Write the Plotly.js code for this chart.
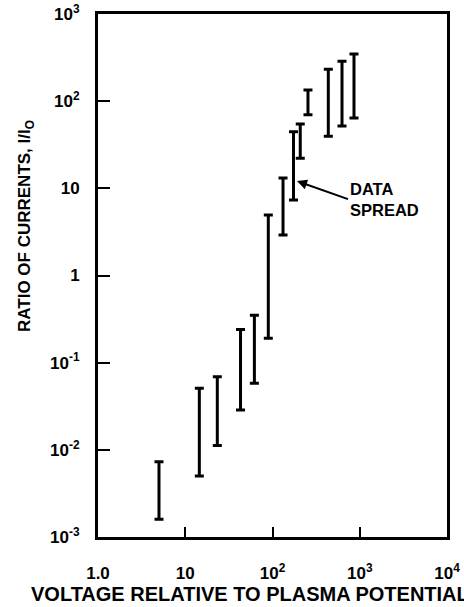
<!DOCTYPE html>
<html>
<head>
<meta charset="utf-8">
<script src="https://cdn.plot.ly/plotly-3.0.1.min.js"></script>
<style>html,body{margin:0;padding:0;background:#fff;}#chart{width:464px;height:607px;}</style>
</head>
<body>
<div id="chart"></div>
<script>
// Data (voltage relative to plasma potential vs ratio of currents spread)
var voltage     = [5.0, 14.5, 23.3, 43, 62, 89.5, 132, 174, 208, 255, 436, 626, 859];
var ratioLow    = [0.0016, 0.0050, 0.0112, 0.0286, 0.058, 0.19, 2.92, 7.35, 22.1, 70, 39.5, 52, 64];
var ratioHigh   = [0.0073, 0.0508, 0.069, 0.24, 0.35, 4.94, 13.1, 44.6, 54.7, 134, 232, 287, 348];

var xTickVals = [1, 10, 100, 1000, 10000];
var xTickText = ['1.0', '10', '10<sup>2</sup>', '10<sup>3</sup>', '10<sup>4</sup>'];
var yTickVals = [0.001, 0.01, 0.1, 1, 10, 100, 1000];
var yTickText = ['10<sup>-3</sup>', '10<sup>-2</sup>', '10<sup>-1</sup>', '1', '10', '10<sup>2</sup>', '10<sup>3</sup>'];

var arrowTarget = {x: 191, y: 12.1};

var spread = ratioHigh.map(function (h, i) { return h - ratioLow[i]; });
var zeros = ratioLow.map(function () { return 0; });

var trace = {
  type: 'scatter',
  mode: 'markers',
  x: voltage,
  y: ratioLow,
  marker: {size: 1, color: 'rgba(0,0,0,0)'},
  error_y: {
    type: 'data',
    symmetric: false,
    array: spread,
    arrayminus: zeros,
    color: '#000',
    thickness: 3,
    width: 4.5
  },
  hoverinfo: 'skip',
  showlegend: false
};

var fontFam = 'Liberation Sans, Arial, Helvetica, sans-serif';
var L = 98, R = 17, T = 14, B = 70;
var W = 464, H = 607;
var pw = W - L - R, ph = H - T - B;
function px2paperX(px) { return (px - L) / pw; }
function px2paperY(py) { return (H - B - py) / ph; }

var layout = {
  width: W,
  height: H,
  margin: {l: L, r: R, t: T, b: B, pad: 0},
  paper_bgcolor: '#fff',
  plot_bgcolor: '#fff',
  showlegend: false,
  xaxis: {
    type: 'log',
    range: [0, 4],
    tickvals: xTickVals,
    ticktext: xTickText,
    ticks: 'inside',
    ticklen: 10,
    tickwidth: 2,
    tickcolor: '#000',
    showline: true,
    linewidth: 3,
    linecolor: '#000',
    mirror: true,
    showgrid: false,
    zeroline: false,
    ticklabelstandoff: 19,
    tickfont: {family: fontFam, size: 17, color: '#000', weight: 700}
  },
  yaxis: {
    type: 'log',
    range: [-3, 3],
    tickvals: yTickVals,
    ticktext: yTickText,
    ticks: 'inside',
    ticklen: 12,
    tickwidth: 2,
    tickcolor: '#000',
    showline: true,
    linewidth: 3,
    linecolor: '#000',
    mirror: true,
    showgrid: false,
    zeroline: false,
    ticklabelstandoff: 12,
    tickfont: {family: fontFam, size: 17, color: '#000', weight: 700}
  },
  annotations: [
    {
      xref: 'paper', yref: 'paper',
      x: px2paperX(29), y: px2paperY(594),
      xanchor: 'left', yanchor: 'middle',
      text: 'VOLTAGE RELATIVE TO PLASMA POTENTIAL',
      showarrow: false,
      font: {family: fontFam, size: 20, color: '#000', weight: 700}
    },
    {
      xref: 'paper', yref: 'paper',
      x: px2paperX(26), y: px2paperY(226),
      xanchor: 'center', yanchor: 'middle',
      textangle: -90,
      text: 'RATIO OF CURRENTS, I/I<sub>O</sub>',
      showarrow: false,
      font: {family: fontFam, size: 17, color: '#000', weight: 700}
    },
    {
      xref: 'paper', yref: 'paper',
      x: 0.5, y: px2paperY(6),
      xanchor: 'center', yanchor: 'bottom',
      text: 'CURRENT',
      showarrow: false,
      font: {family: fontFam, size: 17, color: '#000', weight: 700}
    },
    {
      xref: 'x', yref: 'y',
      x: Math.log10(arrowTarget.x), y: Math.log10(arrowTarget.y),
      text: 'DATA<br>SPREAD',
      align: 'left',
      xanchor: 'left',
      yanchor: 'middle',
      showarrow: true,
      arrowhead: 2,
      arrowsize: 1,
      arrowwidth: 2,
      arrowcolor: '#000',
      ax: 51, ay: 18,
      font: {family: fontFam, size: 16.5, color: '#000', weight: 700}
    }
  ]
};

Plotly.newPlot('chart', [trace], layout, {staticPlot: true, displayModeBar: false});
</script>
</body>
</html>
